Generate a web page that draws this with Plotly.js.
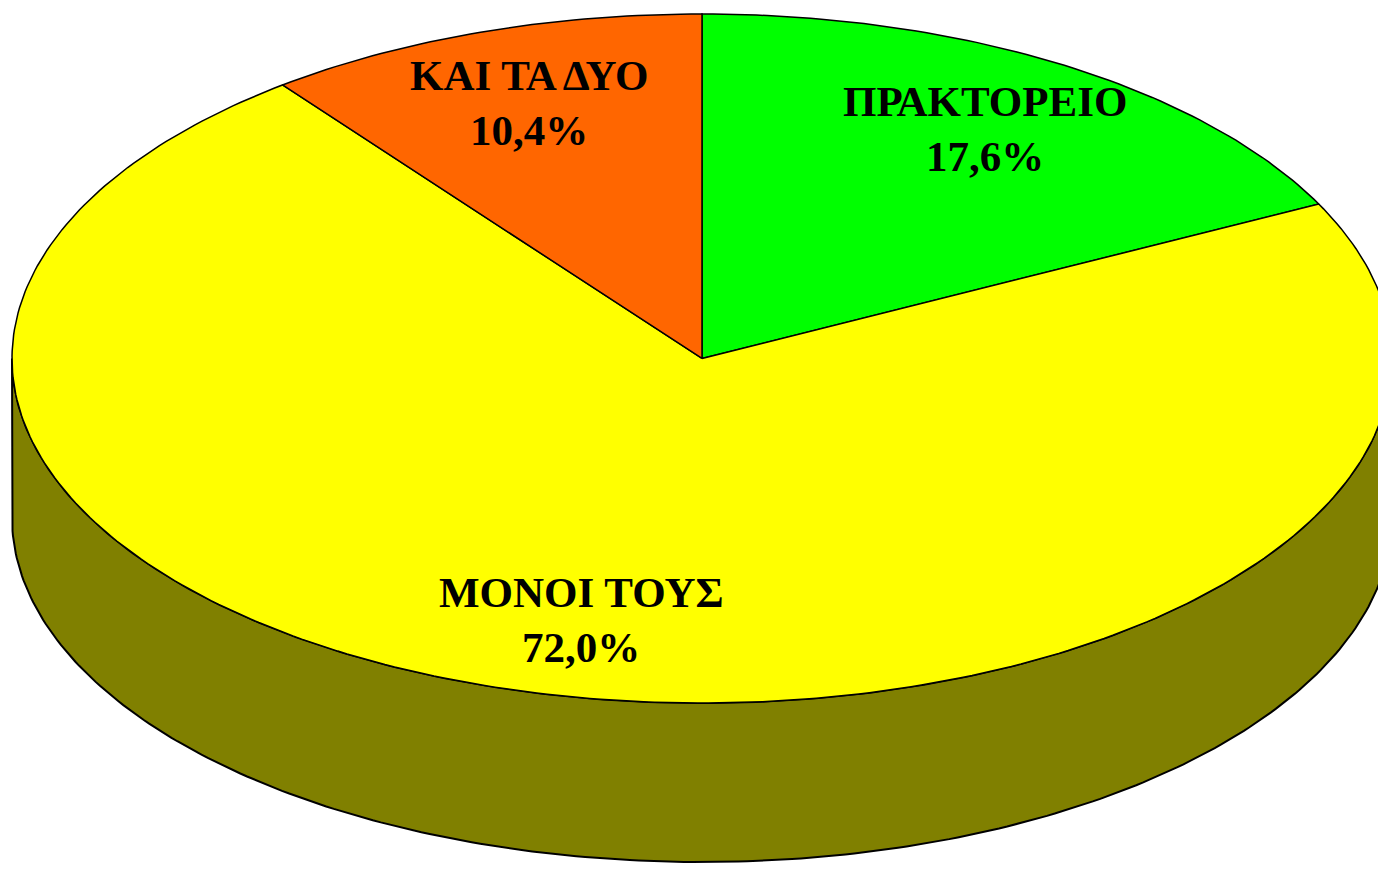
<!DOCTYPE html>
<html>
<head>
<meta charset="utf-8">
<script src="https://cdn.plot.ly/plotly-3.0.1.min.js"></script>
<style>html,body{margin:0;padding:0;background:#fff;}#chart{width:1378px;height:872px;}</style>
</head>
<body>
<div id="chart"></div>
<script>
// ---- data ----
var categories = ["ΠΡΑΚΤΟΡΕΙΟ", "ΜΟΝΟΙ ΤΟΥΣ", "ΚΑΙ ΤΑ ΔΥΟ"];
var values = [17.6, 72.0, 10.4];
var topColors = ["#00FF00", "#FFFF00", "#FF6600"];
var sideColors = ["#008000", "#808000", "#803300"];

// ---- geometry (ellipse projection of a 3D pie) ----
var RX = 1.0, RY = 0.5, DEPTH = 0.2308, LABEL_R = 0.78;
function pt(theta, dy) { // theta: radians clockwise from 12 o'clock
  return [RX * Math.sin(theta), RY * Math.cos(theta) - (dy || 0)];
}
var total = values.reduce(function (s, v) { return s + v; }, 0);
var traces = [];
var starts = [], ends = [];
var acc = 0;
values.forEach(function (v) {
  starts.push(acc / total * 2 * Math.PI);
  acc += v;
  ends.push(acc / total * 2 * Math.PI);
});

// side walls: visible front part is theta in [PI/2, 3PI/2]
values.forEach(function (v, i) {
  var a0 = Math.max(starts[i], Math.PI / 2), a1 = Math.min(ends[i], 3 * Math.PI / 2);
  if (a1 <= a0) return;
  var xs = [], ys = [], n = 240, k, p;
  for (k = 0; k <= n; k++) { p = pt(a0 + (a1 - a0) * k / n, 0); xs.push(p[0]); ys.push(p[1]); }
  for (k = n; k >= 0; k--) { p = pt(a0 + (a1 - a0) * k / n, DEPTH); xs.push(p[0]); ys.push(p[1]); }
  xs.push(xs[0]); ys.push(ys[0]);
  traces.push({type: "scatter", mode: "lines", x: xs, y: ys, fill: "toself",
    fillcolor: sideColors[i], line: {color: "#000", width: 2}, hoverinfo: "skip", showlegend: false});
});

// top faces
values.forEach(function (v, i) {
  var xs = [0], ys = [0], n = Math.max(20, Math.round(400 * v / total)), k, p;
  for (k = 0; k <= n; k++) { p = pt(starts[i] + (ends[i] - starts[i]) * k / n, 0); xs.push(p[0]); ys.push(p[1]); }
  xs.push(0); ys.push(0);
  traces.push({type: "scatter", mode: "lines", x: xs, y: ys, fill: "toself",
    fillcolor: topColors[i], line: {color: "#000", width: 1.5}, hoverinfo: "skip", showlegend: false});
});

// labels
var annotations = [];
values.forEach(function (v, i) {
  var mid = (starts[i] + ends[i]) / 2;
  var p = [LABEL_R * RX * Math.sin(mid), LABEL_R * RY * Math.cos(mid)];
  var f = {family: "Liberation Serif, Times New Roman, serif", size: 43, color: "#000", weight: "bold"};
  annotations.push({x: p[0], y: p[1], xref: "x", yref: "y", showarrow: false,
    text: "<b>" + categories[i] + "</b>", font: f, yshift: 28});
  annotations.push({x: p[0], y: p[1], xref: "x", yref: "y", showarrow: false,
    text: "<b>" + v.toFixed(1).replace(".", ",") + "%</b>", font: f, yshift: -27});
});

var layout = {
  width: 1378, height: 872,
  margin: {l: 0, r: 0, t: 0, b: 0},
  paper_bgcolor: "#ffffff", plot_bgcolor: "#ffffff",
  showlegend: false,
  xaxis: {range: [-1.01739, 0.97971], visible: false, fixedrange: true},
  yaxis: {range: [-0.7453, 0.5203], visible: false, fixedrange: true},
  annotations: annotations
};
Plotly.newPlot("chart", traces, layout, {displayModeBar: false, staticPlot: true});
</script>
</body>
</html>
